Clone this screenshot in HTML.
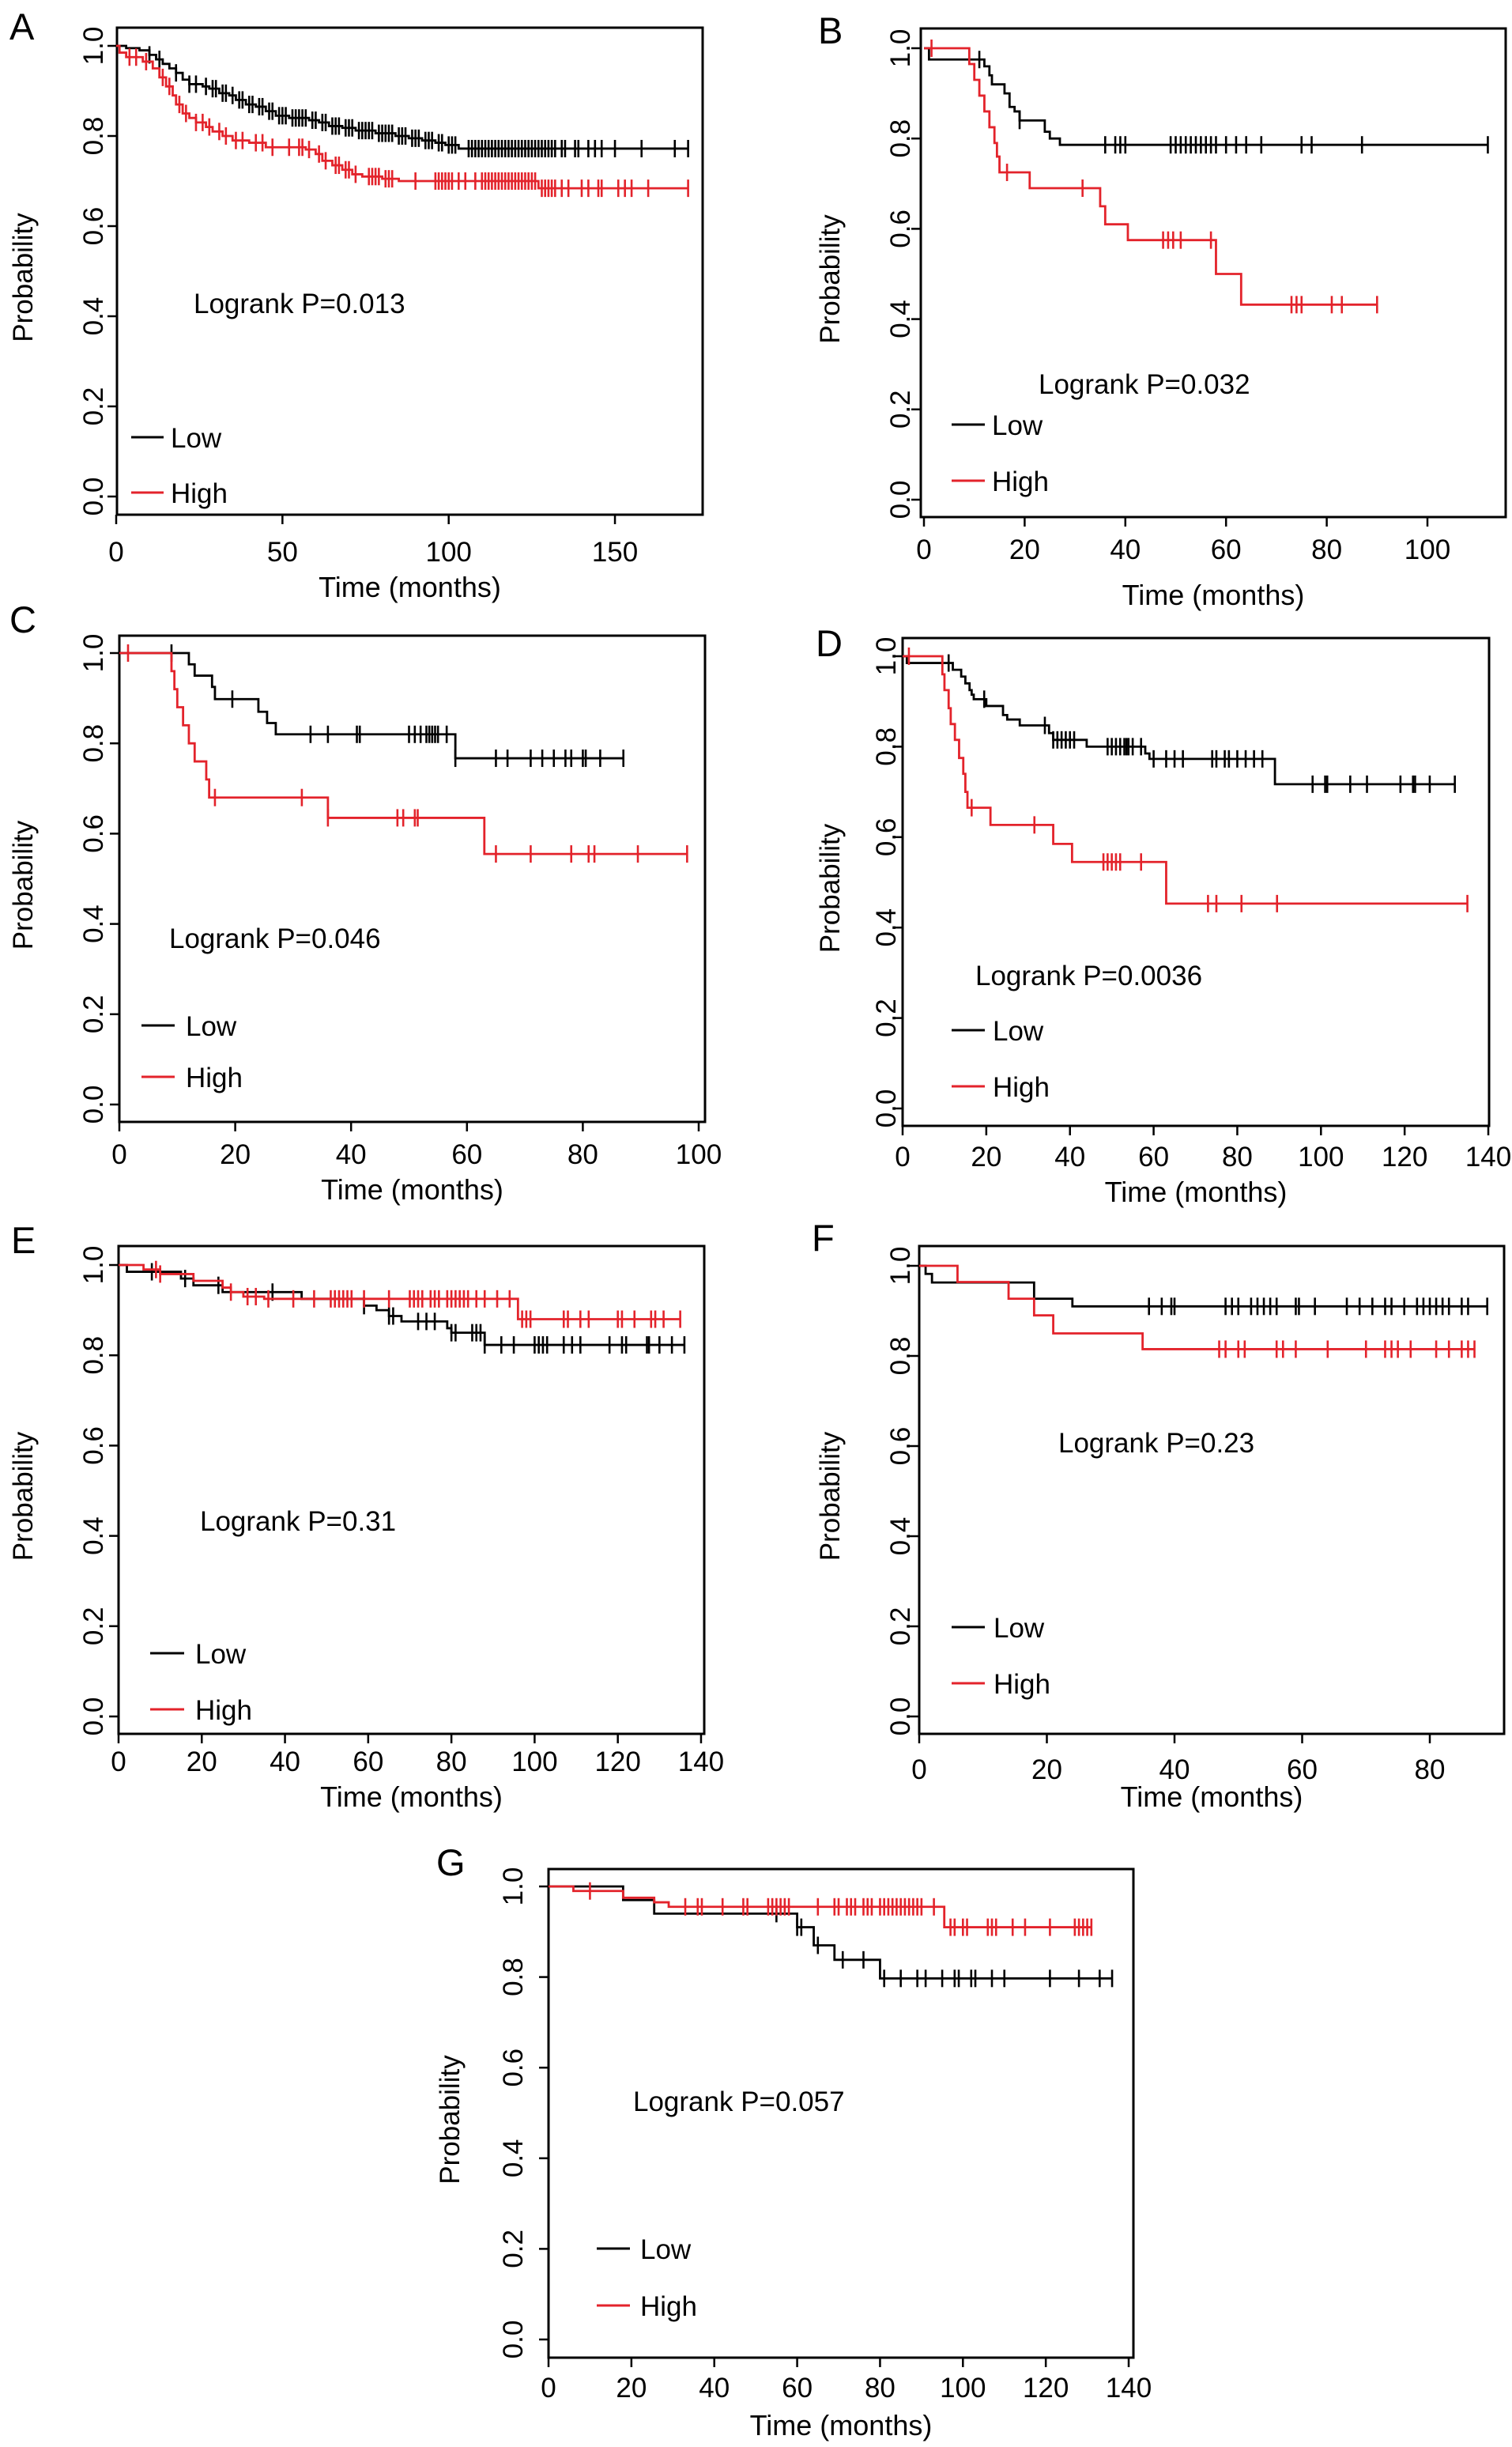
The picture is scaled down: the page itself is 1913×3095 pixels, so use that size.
<!DOCTYPE html>
<html><head><meta charset="utf-8"><style>
html,body{margin:0;padding:0;background:#fff;}
svg{display:block;font-family:"Liberation Sans",Arial,sans-serif;}
</style></head><body>
<svg id="fig" width="1913" height="3095" viewBox="0 0 1913 3095" xmlns="http://www.w3.org/2000/svg"></svg>
<script>
// ---- Data (months / survival probability) ----
const xTicksA=[0,50,100,150], xTicksB=[0,20,40,60,80,100], xTicksC=[0,20,40,60,80,100], xTicks140=[0,20,40,60,80,100,120,140], xTicksF=[0,20,40,60,80];
const yTickLabels=["0.0","0.2","0.4","0.6","0.8","1.0"];
const yTickValues=[0,0.2,0.4,0.6,0.8,1.0];
const pValues=["Logrank P=0.013","Logrank P=0.032","Logrank P=0.046","Logrank P=0.0036","Logrank P=0.31","Logrank P=0.23","Logrank P=0.057"];

const aLowT=[3,7,10,12,14,16,18,20,22,26,28,31,34,36,39,42,45,48,52,58,61,64,68,72,78,84,88,92,96,99,103];
const aLowS=[0.995,0.99,0.98,0.97,0.96,0.95,0.94,0.925,0.915,0.91,0.905,0.895,0.89,0.88,0.87,0.865,0.855,0.845,0.84,0.835,0.83,0.822,0.818,0.812,0.806,0.8,0.795,0.79,0.785,0.78,0.772];
const aLowC=[10,13,18,22,24,27,29,30,32,33,35,37,38,40,41,43,44,46,47,49,50,51,53,54,55,56,57,59,60,62,63,65,66,67,69,70,71,73,74,75,76,77,79,80,81,82,83,85,86,87,89,90,91,93,94,95,97,98,100,101,102,106,107,108,109,110,111,112,113,114,115,116,117,118,119,120,121,122,123,124,125,126,127,128,129,130,131,132,134,135,138,139,142,144,146,150,158,168,172];
const aHighT=[1,3,8,11,13,15,17,18,20,22,24,27,29,32,35,40,45,57,60,62,65,68,71,74,80,85,127];
const aHighS=[0.985,0.975,0.965,0.95,0.93,0.91,0.89,0.87,0.85,0.84,0.83,0.82,0.81,0.8,0.79,0.785,0.775,0.77,0.76,0.745,0.735,0.725,0.715,0.71,0.705,0.7,0.684];
const aHighC=[4,6,9,14,16,19,21,24,26,28,31,33,36,38,42,44,47,52,55,56,58,61,63,66,67,69,70,72,76,77,78,79,81,82,83,90,96,97,98,99,100,101,103,105,108,110,111,112,113,114,115,116,117,118,119,120,121,122,123,124,125,126,128,129,130,131,132,134,136,140,142,145,146,151,153,155,160,172];

const bLowT=[1,12,13,13.5,16,17,18,19,24,25,27];
const bLowS=[0.975,0.96,0.94,0.92,0.9,0.87,0.86,0.84,0.815,0.8,0.786];
const bLowC=[11,19,36,38,39,40,49,50,51,52,53,54,55,56,57,58,60,62,64,67,75,77,87,112];
const bHighT=[9,10,11,12,13,14,14.5,15,21,35,36,40.5,58,63];
const bHighS=[0.965,0.93,0.895,0.86,0.825,0.79,0.76,0.725,0.69,0.65,0.61,0.575,0.5,0.432];
const bHighC=[1.5,16.5,31.5,47.5,48.5,49.5,51,57,73,74,75,81,83,90];

const cLowT=[12,13,16,16.5,24,25.5,27,58];
const cLowS=[0.975,0.95,0.925,0.898,0.87,0.845,0.82,0.767];
const cLowC=[9,19.5,33,36,41,41.5,50,51,52,53,53.5,54,54.5,55,56.5,58,65,67,71,73,75,77,78,80,80.5,83,87];
const cHighT=[9,9.5,10,11,12,13,15,15.5,36,63];
const cHighS=[0.96,0.92,0.88,0.84,0.8,0.76,0.72,0.68,0.635,0.555];
const cHighC=[1.5,16.5,31.5,36,48,49,51,51.5,65,71,78,81,82,89.5,98];

const dLowT=[1,12,14,15,16,16.5,17,20,24,25,28,35,36,44,58,59,89];
const dLowS=[0.985,0.97,0.955,0.94,0.925,0.915,0.905,0.89,0.87,0.86,0.847,0.83,0.815,0.8,0.785,0.773,0.717];
const dLowC=[11,19.5,34,36,37,38,39,40,41,49,50,51,52,53,53.5,54,55,57,60,63,65,67,74,75,77,78,80,82,84,86,98,101,101.5,107,111,119,122,122.5,126,132];
const dHighT=[9.5,10,11,11.5,12.5,13.5,14.5,15,15.5,21,36,40.5,63];
const dHighS=[0.96,0.925,0.885,0.85,0.815,0.775,0.74,0.7,0.665,0.627,0.585,0.545,0.453];
const dHighC=[1.5,16.5,31.5,48,49,50,51,52,57,73,75,81,89.5,135];

const eLowT=[2,15,18,25,44,59,62,65,68,79,80,88];
const eLowS=[0.985,0.97,0.955,0.94,0.925,0.91,0.9,0.887,0.875,0.86,0.85,0.823];
const eLowC=[8,16,24,37,59,65,66,72,74,76,80,81,85,86,87,88,92,95,100,101,102,103,107,109,111,118,121,122,127,127.5,130,133,136];
const eHighT=[6,10,18,25,27,30,35,96];
const eHighS=[0.99,0.98,0.965,0.95,0.94,0.93,0.925,0.88];
const eHighC=[9,10,27,31,33,36,42,47,51,52,53,54,55,56,59,65,70,71,72,73,75,76,77,79,80,81,82,83,84,86,88,91,94,97,98,99,107,108,111,113,120,121,124,128,129,131,135];

const fLowT=[1,2,18,24];
const fLowS=[0.982,0.963,0.927,0.91];
const fLowC=[36,38,39.5,40,48,49,50,52,53,54,55,56,59,59.5,62,67,69,71,73,74,76,78,79,80,81,82,83,85,86,89];
const fHighT=[6,14,18,21,35];
const fHighS=[0.964,0.927,0.89,0.85,0.815];
const fHighC=[47,48,50,51,56,57,59,64,70,73,74,75,77,81,83,85,86,87];

const gLowT=[18,25.5,60,64,69,80];
const gLowS=[0.97,0.94,0.91,0.87,0.838,0.797];
const gLowC=[55,60,61,65,71,76,81,85,89,91,95,98,99,102,103,107,110,121,128,133,136];
const gHighT=[6,18,25.5,29,95.5];
const gHighS=[0.99,0.975,0.965,0.955,0.91];
const gHighC=[10,33,36,37,42,47,48,53,54,55,56,57,58,65,69,70,72,73,74,76,77,78,80,81,82,83,84,85,86,87,88,89,90,93,97,98,100,101,106,107,108,112,115,121,127,128,129,130,131];

// ---- Layout (pixel geometry) ----
const panels=[
 {id:"a",letter:"A",lx:12,ly:50,box:[148,35,889,651],x0:147,xs:4.207,y1:58,y0:628,xt:xTicksA,ytx:117,ytt:31,lr:[245,396],lg:[553,623,166,207,216],xlb:710,xtb:755,p:0,low:[aLowT,aLowS,aLowC],high:[aHighT,aHighS,aHighC]},
 {id:"b",letter:"B",lx:1035,ly:55,box:[1165,36,1905,654],x0:1169,xs:6.37,y1:61,y0:632,xt:xTicksB,ytx:1138,ytt:1052,lr:[1314,498],lg:[537,608,1204,1246,1255],xlb:707,xtb:765,p:1,low:[bLowT,bLowS,bLowC],high:[bHighT,bHighS,bHighC]},
 {id:"c",letter:"C",lx:12,ly:800,box:[151,804,892,1419],x0:151,xs:7.33,y1:826,y0:1397,xt:xTicksC,ytx:117,ytt:31,lr:[214,1199],lg:[1297,1362,179,221,235],xlb:1472,xtb:1517,p:2,low:[cLowT,cLowS,cLowC],high:[cHighT,cHighS,cHighC]},
 {id:"d",letter:"D",lx:1032,ly:830,box:[1142,807,1884,1424],x0:1142,xs:5.293,y1:830,y0:1402,xt:xTicks140,ytx:1120,ytt:1052,lr:[1234,1246],lg:[1303,1374,1204,1246,1256],xlb:1475,xtb:1520,p:3,low:[dLowT,dLowS,dLowC],high:[dHighT,dHighS,dHighC]},
 {id:"e",letter:"E",lx:14,ly:1585,box:[150,1576,891,2193],x0:150,xs:5.264,y1:1600,y0:2171,xt:xTicks140,ytx:117,ytt:31,lr:[253,1936],lg:[2091,2162,190,233,247],xlb:2240,xtb:2285,p:4,low:[eLowT,eLowS,eLowC],high:[eHighT,eHighS,eHighC]},
 {id:"f",letter:"F",lx:1027,ly:1582,box:[1163,1576,1903,2193],x0:1163,xs:8.075,y1:1601,y0:2171,xt:xTicksF,ytx:1138,ytt:1052,lr:[1339,1837],lg:[2058,2129,1204,1246,1257],xlb:2250,xtb:2285,p:5,low:[fLowT,fLowS,fLowC],high:[fHighT,fHighS,fHighC]},
 {id:"g",letter:"G",lx:552,ly:2372,box:[694,2364,1434,2982],x0:694,xs:5.243,y1:2386,y0:2959,xt:xTicks140,ytx:648,ytt:571,lr:[801,2670],lg:[2844,2916,755,797,810],xlb:3032,xtb:3080,p:6,low:[gLowT,gLowS,gLowC],high:[gHighT,gHighS,gHighC]}
];
const RED="#e3232b";
const NS="http://www.w3.org/2000/svg";
const svg=document.getElementById("fig");
function mk(tag,attrs,parent,text){const e=document.createElementNS(NS,tag);for(const k in attrs)e.setAttribute(k,attrs[k]);if(text!==undefined)e.textContent=text;parent.appendChild(e);return e;}

panels.forEach(P=>{
  const X=t=>P.x0+t*P.xs;
  const Y=v=>P.y0-(P.y0-P.y1)*v;
  const g=mk("g",{},svg);
  
  
  const L=mk("text",{x:P.lx,y:P.ly,"font-size":47},g,P.letter);
  
  
  const [bx0,by0,bx1,by1]=P.box;
  const fr=mk("rect",{x:bx0,y:by0,width:bx1-bx0,height:by1-by0,fill:"none",stroke:"#000","stroke-width":3},g);
  
  
  const xa=mk("g",{},g);
  
  
  mk("line",{x1:X(P.xt[0]),x2:X(P.xt[P.xt.length-1]),y1:by1,y2:by1,stroke:"#000","stroke-width":3},xa);
  P.xt.forEach(t=>{
    mk("line",{x1:X(t),x2:X(t),y1:by1,y2:by1+12,stroke:"#000","stroke-width":2.5},xa);
    const tl=mk("text",{x:X(t),y:P.xlb,"font-size":35,"text-anchor":"middle"},xa,String(t));
    
    
  });
  const xt=mk("text",{x:(bx0+bx1)/2,y:P.xtb,"font-size":36,"text-anchor":"middle"},g,"Time (months)");
  
  
  const ya=mk("g",{},g);
  
  
  mk("line",{x1:bx0,x2:bx0,y1:Y(0),y2:Y(1),stroke:"#000","stroke-width":3},ya);
  yTickValues.forEach((v,i)=>{
    mk("line",{x1:bx0,x2:bx0-12,y1:Y(v),y2:Y(v),stroke:"#000","stroke-width":2.5},ya);
    const bx=P.ytx+13;
    const tl=mk("text",{x:bx,y:Y(v),"font-size":35,"text-anchor":"middle",transform:`rotate(-90 ${bx} ${Y(v)})`},ya,yTickLabels[i]);
    
    
  });
  const yx=P.ytt+10, ym=(by0+by1)/2+8;
  const yt=mk("text",{x:yx,y:ym,"font-size":35,"text-anchor":"middle",transform:`rotate(-90 ${yx} ${ym})`},g,"Probability");
  
  
  [["low","#000",P.low],["high",RED,P.high]].forEach(([nm,col,d])=>{
    const [T,S,C]=d;
    const end=Math.max(T[T.length-1],C[C.length-1]);
    let path=`M${X(0)} ${Y(1)}`;
    T.forEach((t,i)=>{path+=` H${X(t)} V${Y(S[i])}`;});
    path+=` H${X(end)}`;
    const cg=mk("g",{},g);
    
    
    mk("path",{d:path,fill:"none",stroke:col,"stroke-width":2.8},cg);
    const sAt=t=>{let s=1;T.forEach((tt,i)=>{if(tt<=t)s=S[i];});return s;};
    C.forEach(t=>{
      const cy=Y(sAt(t));
      const m=mk("line",{x1:X(t),x2:X(t),y1:cy-11,y2:cy+11,stroke:col,"stroke-width":2.6},cg);
      
      
    });
  });
  const lr=mk("text",{x:P.lr[0],y:P.lr[1],"font-size":35},g,pValues[P.p]);
  
  
  const [ly1,ly2,lxa,lxb,ltx]=P.lg;
  const lg=mk("g",{},g);
  
  
  const e1=mk("g",{},lg);
  
  
  mk("line",{x1:lxa,x2:lxb,y1:ly1,y2:ly1,stroke:"#000","stroke-width":3},e1);
  mk("text",{x:ltx,y:ly1+13,"font-size":35},e1,"Low");
  const e2=mk("g",{},lg);
  
  
  mk("line",{x1:lxa,x2:lxb,y1:ly2,y2:ly2,stroke:RED,"stroke-width":3},e2);
  mk("text",{x:ltx,y:ly2+13,"font-size":35},e2,"High");
});
</script>
</body></html>
